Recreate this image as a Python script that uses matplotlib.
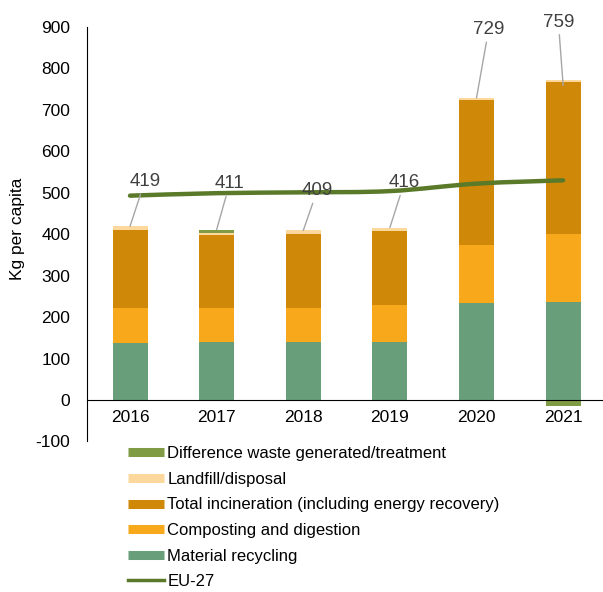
import numpy as np
import matplotlib
matplotlib.use('Agg')
import matplotlib.pyplot as plt
from matplotlib.path import Path
from matplotlib.patches import PathPatch
from matplotlib.lines import Line2D

plt.rcParams['font.family'] = ['Liberation Sans', 'DejaVu Sans']
plt.rcParams['axes.unicode_minus'] = False

years = ['2016', '2017', '2018', '2019', '2020', '2021']
recycling = [137, 140, 140, 141, 235, 236]
composting = [86, 81, 83, 87, 138, 164]
incineration = [188, 178, 177, 180, 352, 368]
landfill = [8, 5, 9, 8, 4, 5]
difference = [0, 7, 0, 0, 0, -14]
eu27 = [493, 499, 501, 504, 522, 530]

c_rec = '#689e7a'
c_comp = '#f8a81b'
c_inc = '#d08808'
c_land = '#fdd89c'
c_diff = '#7f9c45'
c_eu = '#5a7a2a'

# label placement: (x offset, y position) for the total labels
label_pos = [(0.17, 527), (0.15, 522), (0.16, 505), (0.165, 524), (0.14, 894), (-0.055, 912)]

fig = plt.figure(figsize=(6.03, 5.92), dpi=100)
ax = fig.add_axes([87 / 603, 1 - 441.4 / 592, 516 / 603, (441.4 - 27) / 592])

x = np.arange(len(years))
w = 0.404
rec = np.array(recycling)
comp = np.array(composting)
inc = np.array(incineration)
land = np.array(landfill)
diff = np.array(difference)

ax.bar(x, rec, w, color=c_rec, zorder=2)
ax.bar(x, comp, w, bottom=rec, color=c_comp, zorder=2)
ax.bar(x, inc, w, bottom=rec + comp, color=c_inc, zorder=2)
ax.bar(x, land, w, bottom=rec + comp + inc, color=c_land, zorder=2)
pos_top = rec + comp + inc + land
diff_bottom = np.where(diff >= 0, pos_top, 0)
ax.bar(x, diff, w, bottom=diff_bottom, color=c_diff, zorder=2)

totals = pos_top + diff

# smoothed EU-27 line (Catmull-Rom as cubic Bezier)
pts = np.column_stack([x, eu27]).astype(float)
ext = np.vstack([pts[0], pts, pts[-1]])
verts = [tuple(pts[0])]
codes = [Path.MOVETO]
for i in range(1, len(ext) - 2):
    p0, p1, p2, p3 = ext[i - 1], ext[i], ext[i + 1], ext[i + 2]
    c1 = p1 + (p2 - p0) / 6
    c2 = p2 - (p3 - p1) / 6
    verts += [tuple(c1), tuple(c2), tuple(p2)]
    codes += [Path.CURVE4] * 3
ax.add_patch(PathPatch(Path(verts, codes), fill=False, edgecolor=c_eu, lw=3.2,
                       capstyle='round', zorder=4))

for i, t in enumerate(totals):
    dx, ty = label_pos[i]
    ax.annotate(f'{t:.0f}', xy=(i, t), xytext=(i + dx, ty), ha='center', va='center',
                fontsize=13.5, color='#404040', zorder=5,
                arrowprops=dict(arrowstyle='-', color='#a6a6a6', lw=1, shrinkA=1, shrinkB=0))

ax.set_xlim(-0.4965, 5.46)
ax.set_ylim(-100, 900)
ax.set_yticks(range(-100, 901, 100))
ax.set_xticks(x)
ax.set_xticklabels(years)
ax.spines['top'].set_visible(False)
ax.spines['right'].set_visible(False)
ax.spines['bottom'].set_position(('data', 0))
ax.spines['bottom'].set_zorder(3)
ax.tick_params(axis='y', length=0, pad=12, labelsize=12.5)
ax.tick_params(axis='x', length=0, pad=7, labelsize=12.5)

fig.text(18 / 603, 1 - 229 / 592, 'Kg per capita', rotation=90, ha='center', va='center',
         fontsize=12.5)

handles = [
    Line2D([], [], color=c_diff, lw=6.5, solid_capstyle='butt'),
    Line2D([], [], color=c_land, lw=6.5, solid_capstyle='butt'),
    Line2D([], [], color=c_inc, lw=6.5, solid_capstyle='butt'),
    Line2D([], [], color=c_comp, lw=6.5, solid_capstyle='butt'),
    Line2D([], [], color=c_rec, lw=6.5, solid_capstyle='butt'),
    Line2D([], [], color=c_eu, lw=2.5),
]
labels = ['Difference waste generated/treatment', 'Landfill/disposal',
          'Total incineration (including energy recovery)', 'Composting and digestion',
          'Material recycling', 'EU-27']
fig.legend(handles, labels, loc='upper left', bbox_to_anchor=(128 / 603, 1 - 446 / 592),
           frameon=False, fontsize=12, handlelength=2.15, handletextpad=0.2,
           labelspacing=0.64, borderpad=0, borderaxespad=0)

fig.savefig('out.png', dpi=100)
